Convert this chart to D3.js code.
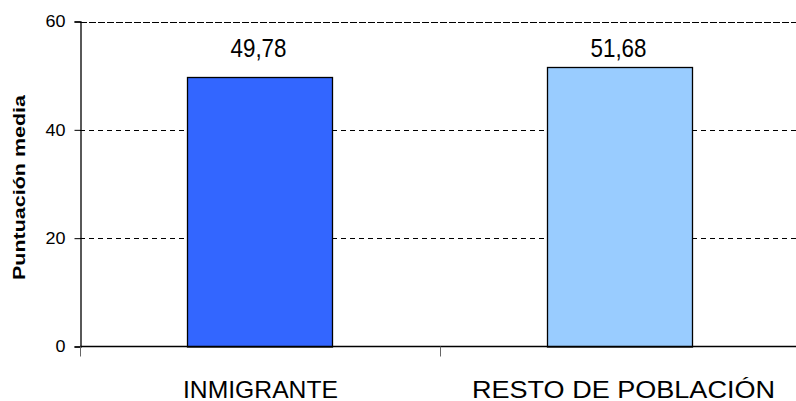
<!DOCTYPE html>
<html><head><meta charset="utf-8">
<script src="https://cdn.jsdelivr.net/npm/d3@7"></script>
<style>body{margin:0;background:#fff}svg{display:block}text{font-family:"Liberation Sans",Arial,sans-serif}</style>
</head><body><svg id="c" width="796" height="401"></svg>
<script>
const categories = ["INMIGRANTE", "RESTO DE POBLACIÓN"];
const values = [49.78, 51.68];
const valueLabels = ["49,78", "51,68"];
const barColors = ["#3366FF", "#99CCFF"];
const yTicks = [0, 20, 40, 60];
const yTitle = "Puntuación media";

const svg = d3.select("#c");
const m = {l: 80, r: 0, t: 21.5, b: 54.5};
const W = 800, H = 401;
const x = d3.scaleBand().domain(categories).range([m.l, W]).paddingInner(0).paddingOuter(0);
const y = d3.scaleLinear().domain([0, 60]).range([H - m.b, m.t]);
const bw = 145;
const catWidths = [155, 303];
const valWidths = [56, 56];

// gridlines
svg.append("g").selectAll("line").data(yTicks.filter(d => d > 0)).join("line")
  .attr("x1", m.l).attr("x2", 796)
  .attr("y1", d => Math.round(y(d)) + 0.5).attr("y2", d => Math.round(y(d)) + 0.5)
  .attr("stroke", "#000").attr("stroke-width", 1)
  .attr("stroke-dasharray", d => d === 60 ? "7,2" : "5,4");

// bars
svg.append("g").selectAll("rect").data(values).join("rect")
  .attr("x", (d, i) => Math.floor(x(categories[i]) + x.bandwidth() / 2 - bw / 2) + 0.5)
  .attr("y", d => Math.round(y(d)) + 0.5)
  .attr("width", bw)
  .attr("height", d => y(0) - Math.round(y(d)))
  .attr("fill", (d, i) => barColors[i])
  .attr("stroke", "#000").attr("stroke-width", 1.3);

// value labels
svg.append("g").selectAll("text").data(values).join("text")
  .attr("x", (d, i) => x(categories[i]) + x.bandwidth() / 2 - 1.5)
  .attr("y", 57)
  .attr("text-anchor", "middle").attr("font-size", 25).attr("fill", "#000")
  .attr("textLength", (d, i) => valWidths[i]).attr("lengthAdjust", "spacingAndGlyphs")
  .text((d, i) => valueLabels[i]);

// y axis
const ya = svg.append("g").attr("transform", `translate(${m.l + 0.5},0)`)
  .call(d3.axisLeft(y).tickValues(yTicks).tickSize(6).tickPadding(9).tickFormat(d3.format("d")));
ya.select(".domain").attr("stroke", "#000").attr("stroke-width", 1.3);
ya.selectAll(".tick line").attr("stroke", "#000");
ya.selectAll(".tick text").attr("font-size", 16.5).attr("font-family", "Liberation Sans, Arial, sans-serif").attr("fill", "#000")
  .attr("textLength", d => String(d).length * 10).attr("lengthAdjust", "spacingAndGlyphs");

// x axis line
svg.append("line").attr("x1", m.l).attr("x2", 796).attr("y1", y(0)).attr("y2", y(0))
  .attr("stroke", "#000").attr("stroke-width", 1.5);
// category boundary ticks
const bounds = [m.l, m.l + x.bandwidth()];
svg.append("g").selectAll("line").data(bounds).join("line")
  .attr("x1", d => d + 0.5).attr("x2", d => d + 0.5)
  .attr("y1", y(0)).attr("y2", y(0) + 10)
  .attr("stroke", "#666").attr("stroke-width", 1);
svg.append("g").selectAll("text").data(categories).join("text")
  .attr("x", (d, i) => x(d) + x.bandwidth() / 2 + (i ? 3.5 : 0.5))
  .attr("y", 397.5)
  .attr("text-anchor", "middle").attr("font-size", 24).attr("fill", "#000")
  .attr("textLength", (d, i) => catWidths[i]).attr("lengthAdjust", "spacingAndGlyphs")
  .text(d => d);

// y title
svg.append("text").attr("transform", "translate(25,187.5) rotate(-90)")
  .attr("text-anchor", "middle").attr("font-size", 16.5).attr("font-weight", "bold")
  .attr("textLength", 185).attr("lengthAdjust", "spacingAndGlyphs")
  .text(yTitle);
</script></body></html>
